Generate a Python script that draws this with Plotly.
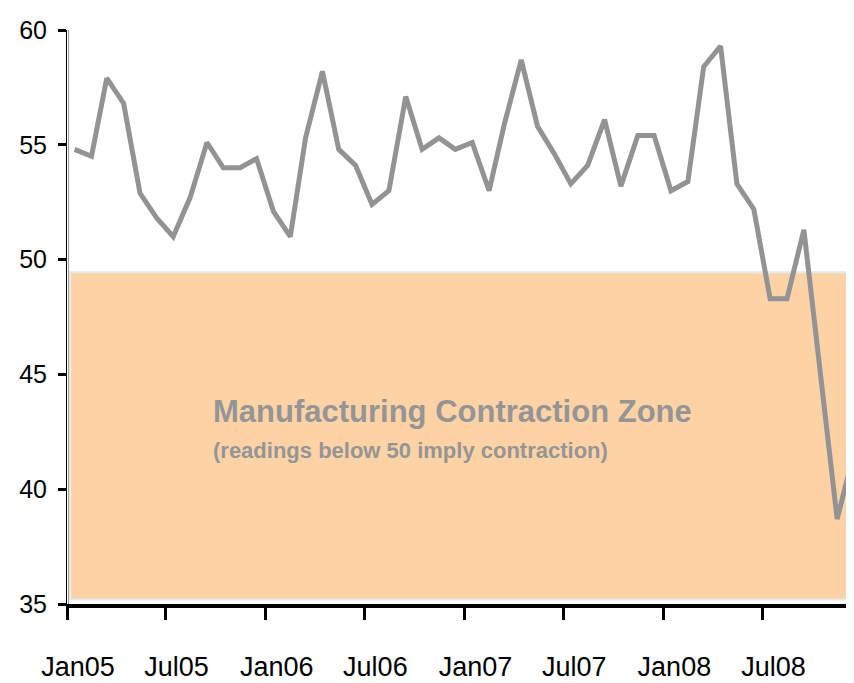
import plotly.graph_objects as go

# Monthly readings, Jan 2005 - Dec 2008 (plotted mid-month)
months = [
    "2005-01-15", "2005-02-15", "2005-03-15", "2005-04-15", "2005-05-15", "2005-06-15",
    "2005-07-15", "2005-08-15", "2005-09-15", "2005-10-15", "2005-11-15", "2005-12-15",
    "2006-01-15", "2006-02-15", "2006-03-15", "2006-04-15", "2006-05-15", "2006-06-15",
    "2006-07-15", "2006-08-15", "2006-09-15", "2006-10-15", "2006-11-15", "2006-12-15",
    "2007-01-15", "2007-02-15", "2007-03-15", "2007-04-15", "2007-05-15", "2007-06-15",
    "2007-07-15", "2007-08-15", "2007-09-15", "2007-10-15", "2007-11-15", "2007-12-15",
    "2008-01-15", "2008-02-15", "2008-03-15", "2008-04-15", "2008-05-15", "2008-06-15",
    "2008-07-15", "2008-08-15", "2008-09-15", "2008-10-15", "2008-11-15", "2008-12-15",
]
pmi = [
    54.8, 54.5, 57.9, 56.8, 52.9, 51.8, 51.0, 52.7, 55.1, 54.0, 54.0, 54.4,
    52.1, 51.0, 55.3, 58.2, 54.8, 54.1, 52.4, 53.0, 57.1, 54.8, 55.3, 54.8,
    55.1, 53.0, 55.9, 58.7, 55.8, 54.6, 53.3, 54.1, 56.1, 53.2, 55.4, 55.4,
    53.0, 53.4, 58.4, 59.3, 53.3, 52.2, 48.3, 48.3, 51.3, 45.0, 38.7, 41.5,
]

x_tick_vals = ["2005-01-01", "2005-07-01", "2006-01-01", "2006-07-01",
               "2007-01-01", "2007-07-01", "2008-01-01", "2008-07-01"]
x_tick_text = ["Jan05", "Jul05", "Jan06", "Jul06", "Jan07", "Jul07", "Jan08", "Jul08"]
y_tick_vals = [35, 40, 45, 50, 55, 60]

zone_low, zone_high = 35.2, 49.45
zone_title = "Manufacturing Contraction Zone"
zone_sub = "(readings below 50 imply contraction)"

FONT = "Liberation Sans, Arial, sans-serif"

fig = go.Figure()
fig.add_shape(type="rect", xref="paper", yref="y", x0=0.004, x1=1.0,
              y0=zone_low, y1=zone_high, fillcolor="#FDD3A6",
              line=dict(color="#E2ECEC", width=2), layer="below")
fig.add_shape(type="line", xref="paper", yref="paper", x0=0.002, x1=0.002,
              y0=0, y1=1, line=dict(color="#9a9a9a", width=1))

fig.add_trace(go.Scatter(x=months, y=pmi, mode="lines",
                         line=dict(color="#939393", width=5), showlegend=False))

fig.add_annotation(text=f"<b>{zone_title}</b>", xref="paper", yref="y",
                   x=0.1835, y=43.4, xanchor="left", yanchor="middle",
                   showarrow=False, font=dict(family=FONT, size=31, color="#959595"))
fig.add_annotation(text=f"<b>{zone_sub}</b>", xref="paper", yref="y",
                   x=0.1835, y=41.7, xanchor="left", yanchor="middle",
                   showarrow=False, font=dict(family=FONT, size=22, color="#959595"))

# the page body has an 8px margin, so the figure is sized/offset to compensate
fig.update_layout(
    width=846, height=675,
    margin=dict(l=59, r=0, t=22, b=79),
    paper_bgcolor="white", plot_bgcolor="white",
    xaxis=dict(type="date", range=["2005-01-01", "2008-12-16"],
               tickvals=x_tick_vals, ticktext=x_tick_text,
               ticks="outside", ticklen=12, tickwidth=3, tickcolor="black",
               showline=True, linecolor="black", linewidth=4,
               showgrid=False, zeroline=False, automargin=False,
               tickfont=dict(family=FONT, size=27, color="black"),
               ticklabelstandoff=24, ticklabelshift=11),
    yaxis=dict(range=[35, 60], tickvals=y_tick_vals,
               ticks="outside", ticklen=8, tickwidth=3, tickcolor="black",
               showline=True, linecolor="black", linewidth=1,
               showgrid=False, zeroline=False, automargin=False,
               tickfont=dict(family=FONT, size=25, color="black"),
               ticklabelstandoff=6),
)

fig.write_html("out.html", default_width="846px", default_height="675px")
